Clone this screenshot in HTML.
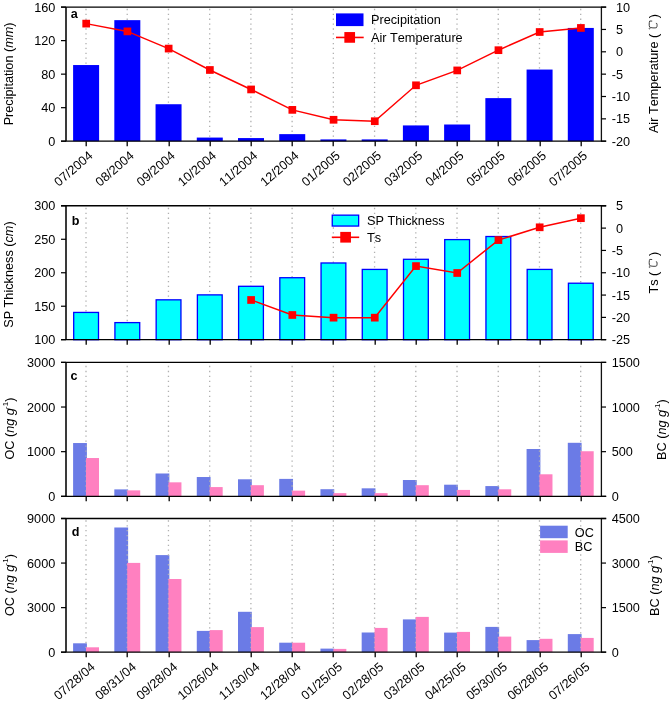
<!DOCTYPE html>
<html><head><meta charset="utf-8"><style>
html,body{margin:0;padding:0;background:#fff;}
body{width:670px;height:702px;overflow:hidden;}
svg{display:block;will-change:transform;}
.t{font-family:"Liberation Sans",sans-serif;font-size:12.7px;fill:#000;font-kerning:none;}
.lab{font-family:"Liberation Sans",sans-serif;font-size:12.6px;font-weight:bold;fill:#000;}
.cel{font-family:"Liberation Serif",serif;font-weight:normal;}
</style></head><body>
<svg width="670" height="702" viewBox="0 0 670 702">
<rect width="670" height="702" fill="#fff"/>
<line x1="86.00" y1="8.85" x2="86.00" y2="141.2" stroke="#b0b0b0" stroke-width="1.3" stroke-dasharray="1.3 3.57"/>
<line x1="127.22" y1="8.85" x2="127.22" y2="141.2" stroke="#b0b0b0" stroke-width="1.3" stroke-dasharray="1.3 3.57"/>
<line x1="168.45" y1="8.85" x2="168.45" y2="141.2" stroke="#b0b0b0" stroke-width="1.3" stroke-dasharray="1.3 3.57"/>
<line x1="209.68" y1="8.85" x2="209.68" y2="141.2" stroke="#b0b0b0" stroke-width="1.3" stroke-dasharray="1.3 3.57"/>
<line x1="250.90" y1="8.85" x2="250.90" y2="141.2" stroke="#b0b0b0" stroke-width="1.3" stroke-dasharray="1.3 3.57"/>
<line x1="292.12" y1="8.85" x2="292.12" y2="141.2" stroke="#b0b0b0" stroke-width="1.3" stroke-dasharray="1.3 3.57"/>
<line x1="333.35" y1="8.85" x2="333.35" y2="141.2" stroke="#b0b0b0" stroke-width="1.3" stroke-dasharray="1.3 3.57"/>
<line x1="374.57" y1="8.85" x2="374.57" y2="141.2" stroke="#b0b0b0" stroke-width="1.3" stroke-dasharray="1.3 3.57"/>
<line x1="415.80" y1="8.85" x2="415.80" y2="141.2" stroke="#b0b0b0" stroke-width="1.3" stroke-dasharray="1.3 3.57"/>
<line x1="457.02" y1="8.85" x2="457.02" y2="141.2" stroke="#b0b0b0" stroke-width="1.3" stroke-dasharray="1.3 3.57"/>
<line x1="498.25" y1="8.85" x2="498.25" y2="141.2" stroke="#b0b0b0" stroke-width="1.3" stroke-dasharray="1.3 3.57"/>
<line x1="539.48" y1="8.85" x2="539.48" y2="141.2" stroke="#b0b0b0" stroke-width="1.3" stroke-dasharray="1.3 3.57"/>
<line x1="580.70" y1="8.85" x2="580.70" y2="141.2" stroke="#b0b0b0" stroke-width="1.3" stroke-dasharray="1.3 3.57"/>
<rect x="73.10" y="65.04" width="26" height="76.16" fill="#0000ff"/>
<rect x="114.32" y="20.15" width="26" height="121.05" fill="#0000ff"/>
<rect x="155.55" y="104.23" width="26" height="36.97" fill="#0000ff"/>
<rect x="196.78" y="137.57" width="26" height="3.63" fill="#0000ff"/>
<rect x="238.00" y="138.07" width="26" height="3.13" fill="#0000ff"/>
<rect x="279.23" y="134.13" width="26" height="7.07" fill="#0000ff"/>
<rect x="320.45" y="139.41" width="26" height="1.79" fill="#0000ff"/>
<rect x="361.67" y="139.41" width="26" height="1.79" fill="#0000ff"/>
<rect x="402.90" y="125.42" width="26" height="15.78" fill="#0000ff"/>
<rect x="444.12" y="124.50" width="26" height="16.70" fill="#0000ff"/>
<rect x="485.35" y="98.12" width="26" height="43.08" fill="#0000ff"/>
<rect x="526.58" y="69.56" width="26" height="71.64" fill="#0000ff"/>
<rect x="567.80" y="27.94" width="26" height="113.26" fill="#0000ff"/>
<polyline points="86.10,23.62 127.32,31.39 168.55,48.58 209.78,69.98 251.00,89.45 292.23,109.87 333.45,119.78 374.67,121.21 415.90,85.30 457.12,70.43 498.35,50.19 539.58,32.01 580.80,27.95" fill="none" stroke="#ff0000" stroke-width="1.5"/>
<rect x="82.35" y="19.77" width="7.7" height="7.7" fill="#ff0000"/>
<rect x="123.57" y="27.54" width="7.7" height="7.7" fill="#ff0000"/>
<rect x="164.80" y="44.73" width="7.7" height="7.7" fill="#ff0000"/>
<rect x="206.03" y="66.13" width="7.7" height="7.7" fill="#ff0000"/>
<rect x="247.25" y="85.60" width="7.7" height="7.7" fill="#ff0000"/>
<rect x="288.48" y="106.02" width="7.7" height="7.7" fill="#ff0000"/>
<rect x="329.70" y="115.93" width="7.7" height="7.7" fill="#ff0000"/>
<rect x="370.92" y="117.36" width="7.7" height="7.7" fill="#ff0000"/>
<rect x="412.15" y="81.45" width="7.7" height="7.7" fill="#ff0000"/>
<rect x="453.38" y="66.58" width="7.7" height="7.7" fill="#ff0000"/>
<rect x="494.60" y="46.34" width="7.7" height="7.7" fill="#ff0000"/>
<rect x="535.83" y="28.16" width="7.7" height="7.7" fill="#ff0000"/>
<rect x="577.05" y="24.10" width="7.7" height="7.7" fill="#ff0000"/>
<rect x="65" y="7.1" width="2" height="134.1" fill="#3a3a3a"/>
<rect x="600.75" y="7.1" width="1.3" height="134.1" fill="#111"/>
<line x1="61" y1="7.1" x2="606.3" y2="7.1" stroke="#000" stroke-width="1.4"/>
<line x1="61" y1="141.2" x2="606.3" y2="141.2" stroke="#000" stroke-width="1.3"/>
<line x1="61" y1="141.2" x2="66" y2="141.2" stroke="#000" stroke-width="1.2"/>
<text x="55.3" y="145.79999999999998" text-anchor="end" class="t">0</text>
<line x1="61" y1="107.67499999999998" x2="66" y2="107.67499999999998" stroke="#000" stroke-width="1.2"/>
<text x="55.3" y="112.27499999999998" text-anchor="end" class="t">40</text>
<line x1="61" y1="74.14999999999999" x2="66" y2="74.14999999999999" stroke="#000" stroke-width="1.2"/>
<text x="55.3" y="78.74999999999999" text-anchor="end" class="t">80</text>
<line x1="61" y1="40.625" x2="66" y2="40.625" stroke="#000" stroke-width="1.2"/>
<text x="55.3" y="45.225" text-anchor="end" class="t">120</text>
<line x1="61" y1="7.099999999999994" x2="66" y2="7.099999999999994" stroke="#000" stroke-width="1.2"/>
<text x="55.3" y="11.699999999999994" text-anchor="end" class="t">160</text>
<line x1="601" y1="7.099999999999994" x2="606" y2="7.099999999999994" stroke="#000" stroke-width="1.2"/>
<text x="616" y="11.699999999999994" class="t">10</text>
<line x1="601" y1="29.44999999999999" x2="606" y2="29.44999999999999" stroke="#000" stroke-width="1.2"/>
<text x="616" y="34.04999999999999" class="t">5</text>
<line x1="601" y1="51.8" x2="606" y2="51.8" stroke="#000" stroke-width="1.2"/>
<text x="616" y="56.4" class="t">0</text>
<line x1="601" y1="74.14999999999999" x2="606" y2="74.14999999999999" stroke="#000" stroke-width="1.2"/>
<text x="611.7" y="78.74999999999999" class="t">-5</text>
<line x1="601" y1="96.5" x2="606" y2="96.5" stroke="#000" stroke-width="1.2"/>
<text x="611.7" y="101.1" class="t">-10</text>
<line x1="601" y1="118.85" x2="606" y2="118.85" stroke="#000" stroke-width="1.2"/>
<text x="611.7" y="123.44999999999999" class="t">-15</text>
<line x1="601" y1="141.2" x2="606" y2="141.2" stroke="#000" stroke-width="1.2"/>
<text x="611.7" y="145.79999999999998" class="t">-20</text>
<line x1="86.2" y1="141.2" x2="86.2" y2="146.2" stroke="#000" stroke-width="1.3"/>
<line x1="127.2" y1="141.2" x2="127.2" y2="146.2" stroke="#000" stroke-width="1.3"/>
<line x1="169.2" y1="141.2" x2="169.2" y2="146.2" stroke="#000" stroke-width="1.3"/>
<line x1="210.2" y1="141.2" x2="210.2" y2="146.2" stroke="#000" stroke-width="1.3"/>
<line x1="251.2" y1="141.2" x2="251.2" y2="146.2" stroke="#000" stroke-width="1.3"/>
<line x1="292.2" y1="141.2" x2="292.2" y2="146.2" stroke="#000" stroke-width="1.3"/>
<line x1="333.2" y1="141.2" x2="333.2" y2="146.2" stroke="#000" stroke-width="1.3"/>
<line x1="375.2" y1="141.2" x2="375.2" y2="146.2" stroke="#000" stroke-width="1.3"/>
<line x1="416.2" y1="141.2" x2="416.2" y2="146.2" stroke="#000" stroke-width="1.3"/>
<line x1="457.2" y1="141.2" x2="457.2" y2="146.2" stroke="#000" stroke-width="1.3"/>
<line x1="498.2" y1="141.2" x2="498.2" y2="146.2" stroke="#000" stroke-width="1.3"/>
<line x1="540.2" y1="141.2" x2="540.2" y2="146.2" stroke="#000" stroke-width="1.3"/>
<line x1="581.2" y1="141.2" x2="581.2" y2="146.2" stroke="#000" stroke-width="1.3"/>
<text x="70.8" y="18.2" class="lab">a</text>
<rect x="336" y="13.4" width="27.5" height="12.7" fill="#0000ff"/>
<text x="371.0" y="24.0" class="t" font-size="12.7">Precipitation</text>
<line x1="336" y1="37.45" x2="363.7" y2="37.45" stroke="#ff0000" stroke-width="1.6"/>
<rect x="344.35" y="32.05" width="10.7" height="10.7" fill="#ff0000"/>
<text x="371.0" y="41.6" class="t" font-size="12.7">Air Temperature</text>
<text x="93.50" y="156.90" text-anchor="end" transform="rotate(-41 93.50 156.90)" class="t" font-size="12.6">07/2004</text>
<text x="134.72" y="156.90" text-anchor="end" transform="rotate(-41 134.72 156.90)" class="t" font-size="12.6">08/2004</text>
<text x="175.95" y="156.90" text-anchor="end" transform="rotate(-41 175.95 156.90)" class="t" font-size="12.6">09/2004</text>
<text x="217.18" y="156.90" text-anchor="end" transform="rotate(-41 217.18 156.90)" class="t" font-size="12.6">10/2004</text>
<text x="258.40" y="156.90" text-anchor="end" transform="rotate(-41 258.40 156.90)" class="t" font-size="12.6">11/2004</text>
<text x="299.62" y="156.90" text-anchor="end" transform="rotate(-41 299.62 156.90)" class="t" font-size="12.6">12/2004</text>
<text x="340.85" y="156.90" text-anchor="end" transform="rotate(-41 340.85 156.90)" class="t" font-size="12.6">01/2005</text>
<text x="382.07" y="156.90" text-anchor="end" transform="rotate(-41 382.07 156.90)" class="t" font-size="12.6">02/2005</text>
<text x="423.30" y="156.90" text-anchor="end" transform="rotate(-41 423.30 156.90)" class="t" font-size="12.6">03/2005</text>
<text x="464.52" y="156.90" text-anchor="end" transform="rotate(-41 464.52 156.90)" class="t" font-size="12.6">04/2005</text>
<text x="505.75" y="156.90" text-anchor="end" transform="rotate(-41 505.75 156.90)" class="t" font-size="12.6">05/2005</text>
<text x="546.98" y="156.90" text-anchor="end" transform="rotate(-41 546.98 156.90)" class="t" font-size="12.6">06/2005</text>
<text x="588.20" y="156.90" text-anchor="end" transform="rotate(-41 588.20 156.90)" class="t" font-size="12.6">07/2005</text>
<line x1="86.00" y1="207.85" x2="86.00" y2="339.7" stroke="#b0b0b0" stroke-width="1.3" stroke-dasharray="1.3 3.57"/>
<line x1="127.22" y1="207.85" x2="127.22" y2="339.7" stroke="#b0b0b0" stroke-width="1.3" stroke-dasharray="1.3 3.57"/>
<line x1="168.45" y1="207.85" x2="168.45" y2="339.7" stroke="#b0b0b0" stroke-width="1.3" stroke-dasharray="1.3 3.57"/>
<line x1="209.68" y1="207.85" x2="209.68" y2="339.7" stroke="#b0b0b0" stroke-width="1.3" stroke-dasharray="1.3 3.57"/>
<line x1="250.90" y1="207.85" x2="250.90" y2="339.7" stroke="#b0b0b0" stroke-width="1.3" stroke-dasharray="1.3 3.57"/>
<line x1="292.12" y1="207.85" x2="292.12" y2="339.7" stroke="#b0b0b0" stroke-width="1.3" stroke-dasharray="1.3 3.57"/>
<line x1="333.35" y1="207.85" x2="333.35" y2="339.7" stroke="#b0b0b0" stroke-width="1.3" stroke-dasharray="1.3 3.57"/>
<line x1="374.57" y1="207.85" x2="374.57" y2="339.7" stroke="#b0b0b0" stroke-width="1.3" stroke-dasharray="1.3 3.57"/>
<line x1="415.80" y1="207.85" x2="415.80" y2="339.7" stroke="#b0b0b0" stroke-width="1.3" stroke-dasharray="1.3 3.57"/>
<line x1="457.02" y1="207.85" x2="457.02" y2="339.7" stroke="#b0b0b0" stroke-width="1.3" stroke-dasharray="1.3 3.57"/>
<line x1="498.25" y1="207.85" x2="498.25" y2="339.7" stroke="#b0b0b0" stroke-width="1.3" stroke-dasharray="1.3 3.57"/>
<line x1="539.48" y1="207.85" x2="539.48" y2="339.7" stroke="#b0b0b0" stroke-width="1.3" stroke-dasharray="1.3 3.57"/>
<line x1="580.70" y1="207.85" x2="580.70" y2="339.7" stroke="#b0b0b0" stroke-width="1.3" stroke-dasharray="1.3 3.57"/>
<rect x="73.70" y="312.43" width="24.8" height="27.27" fill="#00ffff" stroke="#0000ff" stroke-width="1.3"/>
<rect x="114.92" y="322.61" width="24.8" height="17.09" fill="#00ffff" stroke="#0000ff" stroke-width="1.3"/>
<rect x="156.15" y="299.83" width="24.8" height="39.87" fill="#00ffff" stroke="#0000ff" stroke-width="1.3"/>
<rect x="197.38" y="294.88" width="24.8" height="44.83" fill="#00ffff" stroke="#0000ff" stroke-width="1.3"/>
<rect x="238.60" y="286.30" width="24.8" height="53.40" fill="#00ffff" stroke="#0000ff" stroke-width="1.3"/>
<rect x="279.83" y="277.72" width="24.8" height="61.98" fill="#00ffff" stroke="#0000ff" stroke-width="1.3"/>
<rect x="321.05" y="262.98" width="24.8" height="76.72" fill="#00ffff" stroke="#0000ff" stroke-width="1.3"/>
<rect x="362.27" y="269.42" width="24.8" height="70.28" fill="#00ffff" stroke="#0000ff" stroke-width="1.3"/>
<rect x="403.50" y="259.30" width="24.8" height="80.40" fill="#00ffff" stroke="#0000ff" stroke-width="1.3"/>
<rect x="444.73" y="239.60" width="24.8" height="100.10" fill="#00ffff" stroke="#0000ff" stroke-width="1.3"/>
<rect x="485.95" y="236.52" width="24.8" height="103.18" fill="#00ffff" stroke="#0000ff" stroke-width="1.3"/>
<rect x="527.18" y="269.42" width="24.8" height="70.28" fill="#00ffff" stroke="#0000ff" stroke-width="1.3"/>
<rect x="568.40" y="283.22" width="24.8" height="56.48" fill="#00ffff" stroke="#0000ff" stroke-width="1.3"/>
<polyline points="251.00,299.98 292.23,314.99 333.45,317.67 374.67,317.67 415.90,266.08 457.12,273.00 498.35,240.08 539.58,227.31 580.80,218.19" fill="none" stroke="#ff0000" stroke-width="1.5"/>
<rect x="247.25" y="296.13" width="7.7" height="7.7" fill="#ff0000"/>
<rect x="288.48" y="311.14" width="7.7" height="7.7" fill="#ff0000"/>
<rect x="329.70" y="313.82" width="7.7" height="7.7" fill="#ff0000"/>
<rect x="370.92" y="313.82" width="7.7" height="7.7" fill="#ff0000"/>
<rect x="412.15" y="262.23" width="7.7" height="7.7" fill="#ff0000"/>
<rect x="453.38" y="269.15" width="7.7" height="7.7" fill="#ff0000"/>
<rect x="494.60" y="236.23" width="7.7" height="7.7" fill="#ff0000"/>
<rect x="535.83" y="223.46" width="7.7" height="7.7" fill="#ff0000"/>
<rect x="577.05" y="214.34" width="7.7" height="7.7" fill="#ff0000"/>
<rect x="65" y="205.8" width="2" height="133.89999999999998" fill="#3a3a3a"/>
<rect x="600.75" y="205.8" width="1.3" height="133.89999999999998" fill="#111"/>
<line x1="61" y1="205.8" x2="606.3" y2="205.8" stroke="#000" stroke-width="1.4"/>
<line x1="61" y1="339.7" x2="606.3" y2="339.7" stroke="#000" stroke-width="1.3"/>
<line x1="61" y1="339.7" x2="66" y2="339.7" stroke="#000" stroke-width="1.2"/>
<text x="55.3" y="344.3" text-anchor="end" class="t">100</text>
<line x1="61" y1="306.225" x2="66" y2="306.225" stroke="#000" stroke-width="1.2"/>
<text x="55.3" y="310.82500000000005" text-anchor="end" class="t">150</text>
<line x1="61" y1="272.75" x2="66" y2="272.75" stroke="#000" stroke-width="1.2"/>
<text x="55.3" y="277.35" text-anchor="end" class="t">200</text>
<line x1="61" y1="239.275" x2="66" y2="239.275" stroke="#000" stroke-width="1.2"/>
<text x="55.3" y="243.875" text-anchor="end" class="t">250</text>
<line x1="61" y1="205.8" x2="66" y2="205.8" stroke="#000" stroke-width="1.2"/>
<text x="55.3" y="210.4" text-anchor="end" class="t">300</text>
<line x1="601" y1="205.8" x2="606" y2="205.8" stroke="#000" stroke-width="1.2"/>
<text x="616" y="210.4" class="t">5</text>
<line x1="601" y1="228.11666666666667" x2="606" y2="228.11666666666667" stroke="#000" stroke-width="1.2"/>
<text x="616" y="232.71666666666667" class="t">0</text>
<line x1="601" y1="250.43333333333334" x2="606" y2="250.43333333333334" stroke="#000" stroke-width="1.2"/>
<text x="611.7" y="255.03333333333333" class="t">-5</text>
<line x1="601" y1="272.75" x2="606" y2="272.75" stroke="#000" stroke-width="1.2"/>
<text x="611.7" y="277.35" class="t">-10</text>
<line x1="601" y1="295.06666666666666" x2="606" y2="295.06666666666666" stroke="#000" stroke-width="1.2"/>
<text x="611.7" y="299.6666666666667" class="t">-15</text>
<line x1="601" y1="317.3833333333333" x2="606" y2="317.3833333333333" stroke="#000" stroke-width="1.2"/>
<text x="611.7" y="321.98333333333335" class="t">-20</text>
<line x1="601" y1="339.7" x2="606" y2="339.7" stroke="#000" stroke-width="1.2"/>
<text x="611.7" y="344.3" class="t">-25</text>
<line x1="86.2" y1="339.7" x2="86.2" y2="344.7" stroke="#000" stroke-width="1.3"/>
<line x1="127.2" y1="339.7" x2="127.2" y2="344.7" stroke="#000" stroke-width="1.3"/>
<line x1="169.2" y1="339.7" x2="169.2" y2="344.7" stroke="#000" stroke-width="1.3"/>
<line x1="210.2" y1="339.7" x2="210.2" y2="344.7" stroke="#000" stroke-width="1.3"/>
<line x1="251.2" y1="339.7" x2="251.2" y2="344.7" stroke="#000" stroke-width="1.3"/>
<line x1="292.2" y1="339.7" x2="292.2" y2="344.7" stroke="#000" stroke-width="1.3"/>
<line x1="333.2" y1="339.7" x2="333.2" y2="344.7" stroke="#000" stroke-width="1.3"/>
<line x1="375.2" y1="339.7" x2="375.2" y2="344.7" stroke="#000" stroke-width="1.3"/>
<line x1="416.2" y1="339.7" x2="416.2" y2="344.7" stroke="#000" stroke-width="1.3"/>
<line x1="457.2" y1="339.7" x2="457.2" y2="344.7" stroke="#000" stroke-width="1.3"/>
<line x1="498.2" y1="339.7" x2="498.2" y2="344.7" stroke="#000" stroke-width="1.3"/>
<line x1="540.2" y1="339.7" x2="540.2" y2="344.7" stroke="#000" stroke-width="1.3"/>
<line x1="581.2" y1="339.7" x2="581.2" y2="344.7" stroke="#000" stroke-width="1.3"/>
<text x="71.8" y="224.7" class="lab">b</text>
<rect x="332.25" y="215.15" width="26.4" height="10.9" fill="#00ffff" stroke="#0000ff" stroke-width="1.3"/>
<text x="367.1" y="225.1" class="t" font-size="12.7">SP Thickness</text>
<line x1="331.8" y1="237.3" x2="359.2" y2="237.3" stroke="#ff0000" stroke-width="1.6"/>
<rect x="340.25" y="231.90" width="10.7" height="10.7" fill="#ff0000"/>
<text x="367.1" y="241.8" class="t" font-size="12.7">Ts</text>
<rect x="73.10" y="443.03" width="13.80" height="53.27" fill="#6b7be6"/>
<rect x="114.32" y="489.39" width="13.80" height="6.91" fill="#6b7be6"/>
<rect x="155.55" y="473.49" width="13.80" height="22.81" fill="#6b7be6"/>
<rect x="196.78" y="477.02" width="13.80" height="19.28" fill="#6b7be6"/>
<rect x="238.00" y="479.29" width="13.80" height="17.01" fill="#6b7be6"/>
<rect x="279.23" y="478.89" width="13.80" height="17.41" fill="#6b7be6"/>
<rect x="320.45" y="489.21" width="13.80" height="7.09" fill="#6b7be6"/>
<rect x="361.67" y="488.32" width="13.80" height="7.98" fill="#6b7be6"/>
<rect x="402.90" y="480.01" width="13.80" height="16.29" fill="#6b7be6"/>
<rect x="444.12" y="484.70" width="13.80" height="11.60" fill="#6b7be6"/>
<rect x="485.35" y="486.08" width="13.80" height="10.22" fill="#6b7be6"/>
<rect x="526.58" y="449.01" width="13.80" height="47.29" fill="#6b7be6"/>
<rect x="567.80" y="442.80" width="13.80" height="53.50" fill="#6b7be6"/>
<line x1="86.00" y1="365.85" x2="86.00" y2="496.3" stroke="#b0b0b0" stroke-width="1.3" stroke-dasharray="1.3 3.68"/>
<line x1="127.22" y1="365.85" x2="127.22" y2="496.3" stroke="#b0b0b0" stroke-width="1.3" stroke-dasharray="1.3 3.68"/>
<line x1="168.45" y1="365.85" x2="168.45" y2="496.3" stroke="#b0b0b0" stroke-width="1.3" stroke-dasharray="1.3 3.68"/>
<line x1="209.68" y1="365.85" x2="209.68" y2="496.3" stroke="#b0b0b0" stroke-width="1.3" stroke-dasharray="1.3 3.68"/>
<line x1="250.90" y1="365.85" x2="250.90" y2="496.3" stroke="#b0b0b0" stroke-width="1.3" stroke-dasharray="1.3 3.68"/>
<line x1="292.12" y1="365.85" x2="292.12" y2="496.3" stroke="#b0b0b0" stroke-width="1.3" stroke-dasharray="1.3 3.68"/>
<line x1="333.35" y1="365.85" x2="333.35" y2="496.3" stroke="#b0b0b0" stroke-width="1.3" stroke-dasharray="1.3 3.68"/>
<line x1="374.57" y1="365.85" x2="374.57" y2="496.3" stroke="#b0b0b0" stroke-width="1.3" stroke-dasharray="1.3 3.68"/>
<line x1="415.80" y1="365.85" x2="415.80" y2="496.3" stroke="#b0b0b0" stroke-width="1.3" stroke-dasharray="1.3 3.68"/>
<line x1="457.02" y1="365.85" x2="457.02" y2="496.3" stroke="#b0b0b0" stroke-width="1.3" stroke-dasharray="1.3 3.68"/>
<line x1="498.25" y1="365.85" x2="498.25" y2="496.3" stroke="#b0b0b0" stroke-width="1.3" stroke-dasharray="1.3 3.68"/>
<line x1="539.48" y1="365.85" x2="539.48" y2="496.3" stroke="#b0b0b0" stroke-width="1.3" stroke-dasharray="1.3 3.68"/>
<line x1="580.70" y1="365.85" x2="580.70" y2="496.3" stroke="#b0b0b0" stroke-width="1.3" stroke-dasharray="1.3 3.68"/>
<rect x="86.00" y="458.03" width="13.0" height="38.27" fill="#ff80c0"/>
<rect x="127.22" y="490.37" width="13.0" height="5.93" fill="#ff80c0"/>
<rect x="168.45" y="482.33" width="13.0" height="13.97" fill="#ff80c0"/>
<rect x="209.68" y="487.07" width="13.0" height="9.23" fill="#ff80c0"/>
<rect x="250.90" y="485.19" width="13.0" height="11.11" fill="#ff80c0"/>
<rect x="292.12" y="490.64" width="13.0" height="5.66" fill="#ff80c0"/>
<rect x="333.35" y="493.14" width="13.0" height="3.16" fill="#ff80c0"/>
<rect x="374.57" y="493.14" width="13.0" height="3.16" fill="#ff80c0"/>
<rect x="415.80" y="485.19" width="13.0" height="11.11" fill="#ff80c0"/>
<rect x="457.02" y="489.93" width="13.0" height="6.37" fill="#ff80c0"/>
<rect x="498.25" y="489.30" width="13.0" height="7.00" fill="#ff80c0"/>
<rect x="539.48" y="474.29" width="13.0" height="22.01" fill="#ff80c0"/>
<rect x="580.70" y="451.24" width="13.0" height="45.06" fill="#ff80c0"/>
<rect x="65" y="362.4" width="2" height="133.90000000000003" fill="#3a3a3a"/>
<rect x="600.75" y="362.4" width="1.3" height="133.90000000000003" fill="#111"/>
<line x1="61" y1="362.4" x2="606.3" y2="362.4" stroke="#000" stroke-width="1.4"/>
<line x1="61" y1="496.3" x2="606.3" y2="496.3" stroke="#000" stroke-width="1.3"/>
<line x1="61" y1="496.3" x2="66" y2="496.3" stroke="#000" stroke-width="1.2"/>
<text x="55.3" y="500.90000000000003" text-anchor="end" class="t">0</text>
<line x1="61" y1="451.6666666666667" x2="66" y2="451.6666666666667" stroke="#000" stroke-width="1.2"/>
<text x="55.3" y="456.2666666666667" text-anchor="end" class="t">1000</text>
<line x1="61" y1="407.0333333333333" x2="66" y2="407.0333333333333" stroke="#000" stroke-width="1.2"/>
<text x="55.3" y="411.6333333333333" text-anchor="end" class="t">2000</text>
<line x1="61" y1="362.4" x2="66" y2="362.4" stroke="#000" stroke-width="1.2"/>
<text x="55.3" y="367.0" text-anchor="end" class="t">3000</text>
<line x1="601" y1="496.3" x2="606" y2="496.3" stroke="#000" stroke-width="1.2"/>
<text x="611.7" y="500.90000000000003" class="t">0</text>
<line x1="601" y1="451.6666666666667" x2="606" y2="451.6666666666667" stroke="#000" stroke-width="1.2"/>
<text x="611.7" y="456.2666666666667" class="t">500</text>
<line x1="601" y1="407.0333333333333" x2="606" y2="407.0333333333333" stroke="#000" stroke-width="1.2"/>
<text x="611.7" y="411.6333333333333" class="t">1000</text>
<line x1="601" y1="362.4" x2="606" y2="362.4" stroke="#000" stroke-width="1.2"/>
<text x="611.7" y="367.0" class="t">1500</text>
<line x1="86.2" y1="496.3" x2="86.2" y2="501.3" stroke="#000" stroke-width="1.3"/>
<line x1="127.2" y1="496.3" x2="127.2" y2="501.3" stroke="#000" stroke-width="1.3"/>
<line x1="169.2" y1="496.3" x2="169.2" y2="501.3" stroke="#000" stroke-width="1.3"/>
<line x1="210.2" y1="496.3" x2="210.2" y2="501.3" stroke="#000" stroke-width="1.3"/>
<line x1="251.2" y1="496.3" x2="251.2" y2="501.3" stroke="#000" stroke-width="1.3"/>
<line x1="292.2" y1="496.3" x2="292.2" y2="501.3" stroke="#000" stroke-width="1.3"/>
<line x1="333.2" y1="496.3" x2="333.2" y2="501.3" stroke="#000" stroke-width="1.3"/>
<line x1="375.2" y1="496.3" x2="375.2" y2="501.3" stroke="#000" stroke-width="1.3"/>
<line x1="416.2" y1="496.3" x2="416.2" y2="501.3" stroke="#000" stroke-width="1.3"/>
<line x1="457.2" y1="496.3" x2="457.2" y2="501.3" stroke="#000" stroke-width="1.3"/>
<line x1="498.2" y1="496.3" x2="498.2" y2="501.3" stroke="#000" stroke-width="1.3"/>
<line x1="540.2" y1="496.3" x2="540.2" y2="501.3" stroke="#000" stroke-width="1.3"/>
<line x1="581.2" y1="496.3" x2="581.2" y2="501.3" stroke="#000" stroke-width="1.3"/>
<text x="70.6" y="380.0" class="lab">c</text>
<rect x="73.10" y="643.30" width="13.80" height="8.90" fill="#6b7be6"/>
<rect x="114.32" y="527.50" width="13.80" height="124.70" fill="#6b7be6"/>
<rect x="155.55" y="555.10" width="13.80" height="97.10" fill="#6b7be6"/>
<rect x="196.78" y="630.90" width="13.80" height="21.30" fill="#6b7be6"/>
<rect x="238.00" y="611.80" width="13.80" height="40.40" fill="#6b7be6"/>
<rect x="279.23" y="642.69" width="13.80" height="9.51" fill="#6b7be6"/>
<rect x="320.45" y="648.61" width="13.80" height="3.59" fill="#6b7be6"/>
<rect x="361.67" y="632.50" width="13.80" height="19.70" fill="#6b7be6"/>
<rect x="402.90" y="619.39" width="13.80" height="32.81" fill="#6b7be6"/>
<rect x="444.12" y="632.60" width="13.80" height="19.60" fill="#6b7be6"/>
<rect x="485.35" y="626.90" width="13.80" height="25.30" fill="#6b7be6"/>
<rect x="526.58" y="640.10" width="13.80" height="12.10" fill="#6b7be6"/>
<rect x="567.80" y="634.10" width="13.80" height="18.10" fill="#6b7be6"/>
<line x1="86.00" y1="520.35" x2="86.00" y2="652.2" stroke="#b0b0b0" stroke-width="1.3" stroke-dasharray="1.3 3.56"/>
<line x1="127.22" y1="520.35" x2="127.22" y2="652.2" stroke="#b0b0b0" stroke-width="1.3" stroke-dasharray="1.3 3.56"/>
<line x1="168.45" y1="520.35" x2="168.45" y2="652.2" stroke="#b0b0b0" stroke-width="1.3" stroke-dasharray="1.3 3.56"/>
<line x1="209.68" y1="520.35" x2="209.68" y2="652.2" stroke="#b0b0b0" stroke-width="1.3" stroke-dasharray="1.3 3.56"/>
<line x1="250.90" y1="520.35" x2="250.90" y2="652.2" stroke="#b0b0b0" stroke-width="1.3" stroke-dasharray="1.3 3.56"/>
<line x1="292.12" y1="520.35" x2="292.12" y2="652.2" stroke="#b0b0b0" stroke-width="1.3" stroke-dasharray="1.3 3.56"/>
<line x1="333.35" y1="520.35" x2="333.35" y2="652.2" stroke="#b0b0b0" stroke-width="1.3" stroke-dasharray="1.3 3.56"/>
<line x1="374.57" y1="520.35" x2="374.57" y2="652.2" stroke="#b0b0b0" stroke-width="1.3" stroke-dasharray="1.3 3.56"/>
<line x1="415.80" y1="520.35" x2="415.80" y2="652.2" stroke="#b0b0b0" stroke-width="1.3" stroke-dasharray="1.3 3.56"/>
<line x1="457.02" y1="520.35" x2="457.02" y2="652.2" stroke="#b0b0b0" stroke-width="1.3" stroke-dasharray="1.3 3.56"/>
<line x1="498.25" y1="520.35" x2="498.25" y2="652.2" stroke="#b0b0b0" stroke-width="1.3" stroke-dasharray="1.3 3.56"/>
<line x1="539.48" y1="520.35" x2="539.48" y2="652.2" stroke="#b0b0b0" stroke-width="1.3" stroke-dasharray="1.3 3.56"/>
<line x1="580.70" y1="520.35" x2="580.70" y2="652.2" stroke="#b0b0b0" stroke-width="1.3" stroke-dasharray="1.3 3.56"/>
<rect x="86.00" y="647.30" width="13.0" height="4.90" fill="#ff80c0"/>
<rect x="127.22" y="562.90" width="13.0" height="89.30" fill="#ff80c0"/>
<rect x="168.45" y="579.01" width="13.0" height="73.19" fill="#ff80c0"/>
<rect x="209.68" y="630.11" width="13.0" height="22.09" fill="#ff80c0"/>
<rect x="250.90" y="627.11" width="13.0" height="25.09" fill="#ff80c0"/>
<rect x="292.12" y="642.71" width="13.0" height="9.49" fill="#ff80c0"/>
<rect x="333.35" y="648.90" width="13.0" height="3.30" fill="#ff80c0"/>
<rect x="374.57" y="627.91" width="13.0" height="24.29" fill="#ff80c0"/>
<rect x="415.80" y="616.89" width="13.0" height="35.31" fill="#ff80c0"/>
<rect x="457.02" y="631.90" width="13.0" height="20.30" fill="#ff80c0"/>
<rect x="498.25" y="636.60" width="13.0" height="15.60" fill="#ff80c0"/>
<rect x="539.48" y="638.81" width="13.0" height="13.39" fill="#ff80c0"/>
<rect x="580.70" y="637.92" width="13.0" height="14.28" fill="#ff80c0"/>
<rect x="65" y="518.5" width="2" height="133.70000000000005" fill="#3a3a3a"/>
<rect x="600.75" y="518.5" width="1.3" height="133.70000000000005" fill="#111"/>
<line x1="61" y1="518.5" x2="606.3" y2="518.5" stroke="#000" stroke-width="1.4"/>
<line x1="61" y1="652.2" x2="606.3" y2="652.2" stroke="#000" stroke-width="1.3"/>
<line x1="61" y1="652.2" x2="66" y2="652.2" stroke="#000" stroke-width="1.2"/>
<text x="55.3" y="656.8000000000001" text-anchor="end" class="t">0</text>
<line x1="61" y1="607.6333333333333" x2="66" y2="607.6333333333333" stroke="#000" stroke-width="1.2"/>
<text x="55.3" y="612.2333333333333" text-anchor="end" class="t">3000</text>
<line x1="61" y1="563.0666666666667" x2="66" y2="563.0666666666667" stroke="#000" stroke-width="1.2"/>
<text x="55.3" y="567.6666666666667" text-anchor="end" class="t">6000</text>
<line x1="61" y1="518.5" x2="66" y2="518.5" stroke="#000" stroke-width="1.2"/>
<text x="55.3" y="523.1" text-anchor="end" class="t">9000</text>
<line x1="601" y1="652.2" x2="606" y2="652.2" stroke="#000" stroke-width="1.2"/>
<text x="611.7" y="656.8000000000001" class="t">0</text>
<line x1="601" y1="607.6333333333333" x2="606" y2="607.6333333333333" stroke="#000" stroke-width="1.2"/>
<text x="611.7" y="612.2333333333333" class="t">1500</text>
<line x1="601" y1="563.0666666666667" x2="606" y2="563.0666666666667" stroke="#000" stroke-width="1.2"/>
<text x="611.7" y="567.6666666666667" class="t">3000</text>
<line x1="601" y1="518.5" x2="606" y2="518.5" stroke="#000" stroke-width="1.2"/>
<text x="611.7" y="523.1" class="t">4500</text>
<line x1="86.2" y1="652.2" x2="86.2" y2="657.2" stroke="#000" stroke-width="1.3"/>
<line x1="127.2" y1="652.2" x2="127.2" y2="657.2" stroke="#000" stroke-width="1.3"/>
<line x1="169.2" y1="652.2" x2="169.2" y2="657.2" stroke="#000" stroke-width="1.3"/>
<line x1="210.2" y1="652.2" x2="210.2" y2="657.2" stroke="#000" stroke-width="1.3"/>
<line x1="251.2" y1="652.2" x2="251.2" y2="657.2" stroke="#000" stroke-width="1.3"/>
<line x1="292.2" y1="652.2" x2="292.2" y2="657.2" stroke="#000" stroke-width="1.3"/>
<line x1="333.2" y1="652.2" x2="333.2" y2="657.2" stroke="#000" stroke-width="1.3"/>
<line x1="375.2" y1="652.2" x2="375.2" y2="657.2" stroke="#000" stroke-width="1.3"/>
<line x1="416.2" y1="652.2" x2="416.2" y2="657.2" stroke="#000" stroke-width="1.3"/>
<line x1="457.2" y1="652.2" x2="457.2" y2="657.2" stroke="#000" stroke-width="1.3"/>
<line x1="498.2" y1="652.2" x2="498.2" y2="657.2" stroke="#000" stroke-width="1.3"/>
<line x1="540.2" y1="652.2" x2="540.2" y2="657.2" stroke="#000" stroke-width="1.3"/>
<line x1="581.2" y1="652.2" x2="581.2" y2="657.2" stroke="#000" stroke-width="1.3"/>
<text x="71.7" y="536.0" class="lab">d</text>
<rect x="540.1" y="525.7" width="27.6" height="12.5" fill="#6b7be6"/>
<rect x="540.1" y="540.4" width="27.6" height="12.5" fill="#ff80c0"/>
<text x="574.8" y="536.6" class="t" font-size="12.7">OC</text>
<text x="574.8" y="551.3" class="t" font-size="12.7">BC</text>
<text x="95.80" y="668.20" text-anchor="end" transform="rotate(-41 95.80 668.20)" class="t" font-size="12.6">07/28/04</text>
<text x="137.02" y="668.20" text-anchor="end" transform="rotate(-41 137.02 668.20)" class="t" font-size="12.6">08/31/04</text>
<text x="178.25" y="668.20" text-anchor="end" transform="rotate(-41 178.25 668.20)" class="t" font-size="12.6">09/28/04</text>
<text x="219.47" y="668.20" text-anchor="end" transform="rotate(-41 219.47 668.20)" class="t" font-size="12.6">10/26/04</text>
<text x="260.70" y="668.20" text-anchor="end" transform="rotate(-41 260.70 668.20)" class="t" font-size="12.6">11/30/04</text>
<text x="301.93" y="668.20" text-anchor="end" transform="rotate(-41 301.93 668.20)" class="t" font-size="12.6">12/28/04</text>
<text x="343.15" y="668.20" text-anchor="end" transform="rotate(-41 343.15 668.20)" class="t" font-size="12.6">01/25/05</text>
<text x="384.37" y="668.20" text-anchor="end" transform="rotate(-41 384.37 668.20)" class="t" font-size="12.6">02/28/05</text>
<text x="425.60" y="668.20" text-anchor="end" transform="rotate(-41 425.60 668.20)" class="t" font-size="12.6">03/28/05</text>
<text x="466.82" y="668.20" text-anchor="end" transform="rotate(-41 466.82 668.20)" class="t" font-size="12.6">04/25/05</text>
<text x="508.05" y="668.20" text-anchor="end" transform="rotate(-41 508.05 668.20)" class="t" font-size="12.6">05/30/05</text>
<text x="549.28" y="668.20" text-anchor="end" transform="rotate(-41 549.28 668.20)" class="t" font-size="12.6">06/28/05</text>
<text x="590.50" y="668.20" text-anchor="end" transform="rotate(-41 590.50 668.20)" class="t" font-size="12.6">07/26/05</text>
<text x="0" y="0" text-anchor="middle" transform="translate(13.2 73.9) rotate(-90)" class="t" font-size="12.5">Precipitation (<tspan font-style="italic">mm</tspan>)</text>
<text x="0" y="0" text-anchor="middle" transform="translate(13.2 274.6) rotate(-90)" class="t" font-size="12.5">SP Thickness (<tspan font-style="italic">cm</tspan>)</text>
<text x="0" y="0" text-anchor="middle" transform="translate(13.8 428.6) rotate(-90)" class="t" font-size="12.5">OC (<tspan font-style="italic">ng g</tspan><tspan font-size="8" dx="-0.8" dy="-5.6">-1</tspan><tspan dy="5.6">)</tspan></text>
<text x="0" y="0" text-anchor="middle" transform="translate(13.7 585.1) rotate(-90)" class="t" font-size="12.5">OC (<tspan font-style="italic">ng g</tspan><tspan font-size="8" dx="-0.8" dy="-5.6">-1</tspan><tspan dy="5.6">)</tspan></text>
<text x="0" y="0" text-anchor="middle" transform="translate(665.5 429.6) rotate(-90)" class="t" font-size="12.5">BC (<tspan font-style="italic">ng g</tspan><tspan font-size="8" dx="-0.8" dy="-5.6">-1</tspan><tspan dy="5.6">)</tspan></text>
<text x="0" y="0" text-anchor="middle" transform="translate(658.8 585.6) rotate(-90)" class="t" font-size="12.5">BC (<tspan font-style="italic">ng g</tspan><tspan font-size="8" dx="-0.8" dy="-5.6">-1</tspan><tspan dy="5.6">)</tspan></text>
<g transform="translate(658.2 133.1) rotate(-90)"><text x="0" y="0" class="t" font-size="12.6">Air Temperature <tspan dy="-0.6">(</tspan></text><g transform="translate(103.80 0)" fill="none" stroke="#2a2a2a" stroke-width="0.9"><circle cx="0.7" cy="-8.6" r="0.55" stroke-width="0.6"/><path d="M8.2,-6.0 L8.3,-8.5 C7,-9.1 3.6,-9.2 2.3,-8.6 C1.3,-7.9 1.2,-2.6 1.6,-1.8 C2.5,-0.9 4.8,-1.0 5.8,-1.4 L6.0,-2.3"/></g><text x="114.8" y="-0.6" class="t" font-size="12.6">)</text></g>
<g transform="translate(658.2 293.6) rotate(-90)"><text x="0" y="0" class="t" font-size="12.6">Ts <tspan dy="0.0">(</tspan></text><g transform="translate(25.90 0)" fill="none" stroke="#2a2a2a" stroke-width="0.9"><circle cx="0.7" cy="-8.6" r="0.55" stroke-width="0.6"/><path d="M8.2,-6.0 L8.3,-8.5 C7,-9.1 3.6,-9.2 2.3,-8.6 C1.3,-7.9 1.2,-2.6 1.6,-1.8 C2.5,-0.9 4.8,-1.0 5.8,-1.4 L6.0,-2.3"/></g><text x="37.6" y="0.0" class="t" font-size="12.6">)</text></g>
</svg>
</body></html>
